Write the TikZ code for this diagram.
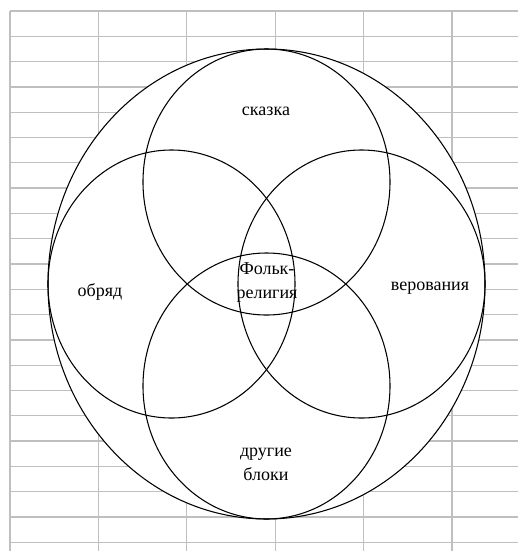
\documentclass[tikz,border=0pt]{standalone}
\usepackage{fontspec}
\setmainfont{Liberation Serif}
\usepackage{tikz}
\usetikzlibrary{positioning}

\begin{document}
\begin{tikzpicture}[x=0.75pt, y=-0.75pt,
  grid/.style={draw=black!25, line width=1pt},
  ring/.style={draw=black, line width=0.8pt},
  lbl/.style={align=center, inner sep=0pt, font=\fontsize{13.5}{18}\selectfont}]
  \useasboundingbox (0,0) rectangle (518,551);

  % table grid behind the diagram
  \foreach \i in {0,...,5}
    \draw[grid] ({10+88.4*\i},11) -- ({10+88.4*\i},551);
  \foreach \j in {0,...,21}
    \draw[grid] (10,{11+25.3*\j}) -- (518,{11+25.3*\j});

  % outer oval and the four circles
  \draw[ring, fill=white] (266.5,284) ellipse [x radius=218.5, y radius=235];
  \draw[ring] (266.5,182) ellipse [x radius=123.5, y radius=133];
  \draw[ring] (266.5,386) ellipse [x radius=123.5, y radius=133];
  \draw[ring] (171.5,284) ellipse [x radius=123.5, y radius=134];
  \draw[ring] (361.5,284) ellipse [x radius=123.5, y radius=134];

  \node[lbl] (skazka) at (266,111) {сказка};
  \node[lbl] (obryad) at (100,292) {обряд};
  \node[lbl] (verovaniya) at (430,288) {верования};
  \node[lbl] (folk) at (267,283) {Фольк-\\религия};
  \node[lbl] (drugie) at (266,464) {другие\\блоки};
\end{tikzpicture}
\end{document}
